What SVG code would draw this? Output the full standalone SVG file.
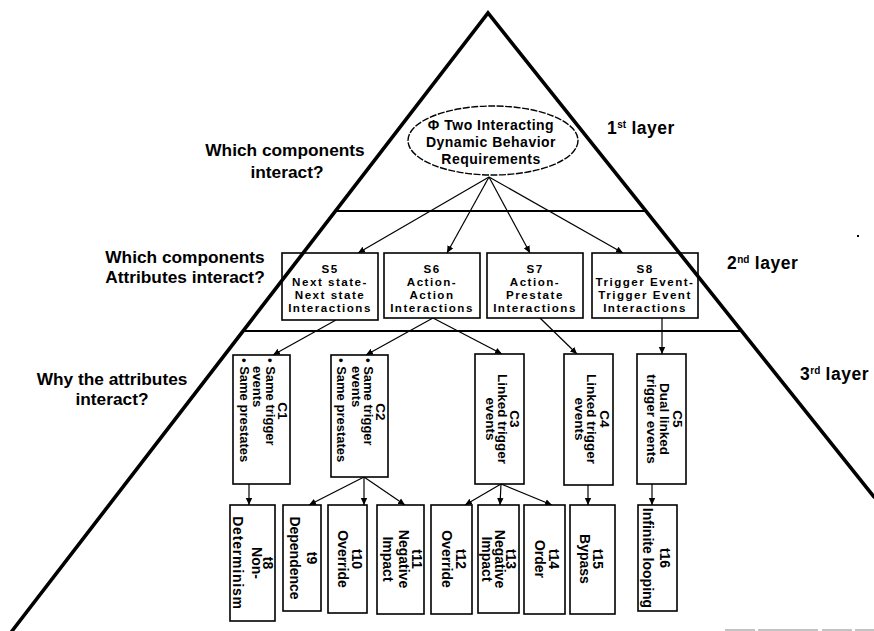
<svg xmlns="http://www.w3.org/2000/svg" width="874" height="631" viewBox="0 0 874 631">
  <style>
    text { font-family: "Liberation Sans", Arial, sans-serif; fill: #000; }
    .q { font-size: 17.3px; font-weight: bold; text-anchor: middle; }
    .lay { font-size: 17.5px; font-weight: bold; letter-spacing: 0.5px; }
    .sup { font-size: 10px; letter-spacing: 0; }
    .ell { font-size: 14px; font-weight: bold; text-anchor: middle; letter-spacing: 0.5px; }
    .s { font-size: 11.6px; font-weight: bold; text-anchor: middle; letter-spacing: 1.5px; }
    .c { font-size: 13px; font-weight: bold; }
    .cm { font-size: 13.5px; font-weight: bold; text-anchor: middle; }
    .t { font-size: 14px; font-weight: bold; text-anchor: middle; }
    .box { fill: #fff; stroke: #000; stroke-width: 1.6; }
    .conn { fill: none; stroke: #000; stroke-width: 1.2; marker-end: url(#arr); }
    .edge { stroke: #000; stroke-width: 3.6; stroke-linecap: round; fill: none; }
    .layer { stroke: #000; stroke-width: 2; }
  </style>
  <defs>
    <marker id="arr" markerUnits="userSpaceOnUse" markerWidth="8" markerHeight="8" refX="7" refY="4" orient="auto">
      <path d="M0,0.8 L7,4 L0,7.2 Z" fill="#000"/>
    </marker>
  </defs>

  <rect width="874" height="631" fill="#fff"/>

  <!-- layer separators -->
  <line class="layer" x1="336" y1="211" x2="646" y2="211"/>
  <line class="layer" x1="244" y1="331" x2="742" y2="331"/>

  <!-- question labels on the left -->
  <text class="q" x="285" y="156">Which components</text>
  <text class="q" x="287" y="178">interact?</text>
  <text class="q" x="185" y="263">Which components</text>
  <text class="q" x="185" y="283">Attributes interact?</text>
  <text class="q" x="112" y="385">Why the attributes</text>
  <text class="q" x="112" y="405">interact?</text>

  <!-- layer names on the right -->
  <text class="lay" x="607" y="134">1<tspan class="sup" dy="-6">st</tspan><tspan dy="6"> layer</tspan></text>
  <text class="lay" x="727" y="269">2<tspan class="sup" dy="-6">nd</tspan><tspan dy="6"> layer</tspan></text>
  <text class="lay" x="800" y="380">3<tspan class="sup" dy="-6">rd</tspan><tspan dy="6"> layer</tspan></text>

  <!-- connectors -->
  <g id="connectors">
    <line class="conn" x1="489" y1="177" x2="358" y2="253"/>
    <line class="conn" x1="489" y1="177" x2="447" y2="253"/>
    <line class="conn" x1="489" y1="177" x2="530" y2="253"/>
    <line class="conn" x1="489" y1="177" x2="623" y2="253"/>
    <line class="conn" x1="336" y1="320" x2="273" y2="355"/>
    <line class="conn" x1="433" y1="318" x2="366" y2="355"/>
    <line class="conn" x1="433" y1="318" x2="502" y2="354"/>
    <line class="conn" x1="540" y1="318" x2="577" y2="354"/>
    <line class="conn" x1="662" y1="318" x2="662" y2="354"/>
    <line class="conn" x1="249" y1="484" x2="249" y2="505"/>
    <line class="conn" x1="364" y1="477" x2="309" y2="505"/>
    <line class="conn" x1="364" y1="477" x2="364" y2="505"/>
    <line class="conn" x1="364" y1="477" x2="405" y2="505"/>
    <line class="conn" x1="501" y1="484" x2="465" y2="505"/>
    <line class="conn" x1="501" y1="484" x2="500" y2="505"/>
    <line class="conn" x1="501" y1="484" x2="552" y2="505"/>
    <line class="conn" x1="588" y1="485" x2="588" y2="505"/>
    <line class="conn" x1="652" y1="484" x2="652" y2="505"/>
  </g>

  <!-- 1st layer -->
  <g id="root">
    <ellipse cx="493" cy="140.5" rx="85" ry="34.5" fill="#fff" stroke="#000" stroke-width="1.4" stroke-dasharray="7 1.5"/>
    <text class="ell" x="491" y="130">Φ Two Interacting</text>
    <text class="ell" x="491" y="147">Dynamic Behavior</text>
    <text class="ell" x="491" y="164">Requirements</text>
  </g>

  <!-- 2nd layer -->
  <g id="S5">
    <rect class="box" x="282" y="253" width="96" height="67"/>
    <text class="s" x="330" y="272.5">S5</text>
    <text class="s" x="330" y="285.5">Next state-</text>
    <text class="s" x="330" y="298.5">Next state</text>
    <text class="s" x="330" y="311.5">Interactions</text>
  </g>
  <g id="S6">
    <rect class="box" x="384" y="253" width="96" height="65"/>
    <text class="s" x="432" y="272.5">S6</text>
    <text class="s" x="432" y="285.5">Action-</text>
    <text class="s" x="432" y="298.5">Action</text>
    <text class="s" x="432" y="311.5">Interactions</text>
  </g>
  <g id="S7">
    <rect class="box" x="487" y="253" width="96" height="65"/>
    <text class="s" x="535" y="272.5">S7</text>
    <text class="s" x="535" y="285.5">Action-</text>
    <text class="s" x="535" y="298.5">Prestate</text>
    <text class="s" x="535" y="311.5">Interactions</text>
  </g>
  <g id="S8">
    <rect class="box" x="592" y="253" width="106" height="65"/>
    <text class="s" x="645" y="272.5">S8</text>
    <text class="s" x="645" y="285.5" letter-spacing="0.9">Trigger Event-</text>
    <text class="s" x="645" y="298.5" letter-spacing="0.9">Trigger Event</text>
    <text class="s" x="645" y="311.5">Interactions</text>
  </g>

  <!-- 3rd layer: causes (text runs top to bottom) -->
  <g id="C1">
    <rect class="box" x="233" y="355" width="57" height="129"/>
    <g transform="translate(290,355) rotate(90)">
      <text class="cm" x="56" y="12">C1</text>
      <text class="c" x="3" y="24.5">• Same trigger</text>
      <text class="c" x="11" y="37">events</text>
      <text class="c" x="3" y="50">• Same prestates</text>
    </g>
  </g>
  <g id="C2">
    <rect class="box" x="331" y="355" width="57" height="122"/>
    <g transform="translate(388,355) rotate(90)">
      <text class="cm" x="57" y="12">C2</text>
      <text class="c" x="3" y="24.5">• Same trigger</text>
      <text class="c" x="11" y="36">events</text>
      <text class="c" x="3" y="51">• Same prestates</text>
    </g>
  </g>
  <g id="C3">
    <rect class="box" x="475" y="354" width="49" height="130"/>
    <g transform="translate(524,354) rotate(90)">
      <text class="cm" x="65" y="14">C3</text>
      <text class="cm" x="65" y="26">Linked trigger</text>
      <text class="cm" x="65" y="38">events</text>
    </g>
  </g>
  <g id="C4">
    <rect class="box" x="564" y="354" width="49" height="131"/>
    <g transform="translate(613,354) rotate(90)">
      <text class="cm" x="65" y="13">C4</text>
      <text class="cm" x="65" y="26">Linked trigger</text>
      <text class="cm" x="65" y="38">events</text>
    </g>
  </g>
  <g id="C5">
    <rect class="box" x="637" y="354" width="49" height="130"/>
    <g transform="translate(686,354) rotate(90)">
      <text class="cm" x="65" y="13">C5</text>
      <text class="cm" x="65" y="26">Dual linked</text>
      <text class="cm" x="65" y="39">trigger events</text>
    </g>
  </g>

  <!-- interaction types (text runs top to bottom) -->
  <g id="t8">
    <rect class="box" x="230" y="505" width="45" height="116"/>
    <g transform="translate(275,505) rotate(90)">
      <text class="t" x="58" y="12">t8</text>
      <text class="t" x="58" y="23">Non-</text>
      <text class="t" x="58" y="42" letter-spacing="0.8">Determinism</text>
    </g>
  </g>
  <g id="t9">
    <rect class="box" x="283" y="505" width="38" height="106"/>
    <g transform="translate(321,505) rotate(90)">
      <text class="t" x="53" y="14">t9</text>
      <text class="t" x="53" y="31">Dependence</text>
    </g>
  </g>
  <g id="t10">
    <rect class="box" x="328" y="505" width="39" height="108"/>
    <g transform="translate(367,505) rotate(90)">
      <text class="t" x="54" y="15">t10</text>
      <text class="t" x="54" y="29">Override</text>
    </g>
  </g>
  <g id="t11">
    <rect class="box" x="377" y="505" width="47" height="109"/>
    <g transform="translate(424,505) rotate(90)">
      <text class="t" x="54" y="12.5">t11</text>
      <text class="t" x="54" y="25">Negative</text>
      <text class="t" x="54" y="41">Impact</text>
    </g>
  </g>
  <g id="t12">
    <rect class="box" x="431" y="505" width="41" height="109"/>
    <g transform="translate(472,505) rotate(90)">
      <text class="t" x="54" y="16">t12</text>
      <text class="t" x="54" y="30">Override</text>
    </g>
  </g>
  <g id="t13">
    <rect class="box" x="478" y="505" width="41" height="108"/>
    <g transform="translate(519,505) rotate(90)">
      <text class="t" x="54" y="13">t13</text>
      <text class="t" x="54" y="24.5">Negative</text>
      <text class="t" x="54" y="37">Impact</text>
    </g>
  </g>
  <g id="t14">
    <rect class="box" x="524" y="505" width="41" height="109"/>
    <g transform="translate(565,505) rotate(90)">
      <text class="t" x="54" y="16">t14</text>
      <text class="t" x="54" y="30">Order</text>
    </g>
  </g>
  <g id="t15">
    <rect class="box" x="570" y="505" width="45" height="109"/>
    <g transform="translate(615,505) rotate(90)">
      <text class="t" x="54" y="22">t15</text>
      <text class="t" x="54" y="35">Bypass</text>
    </g>
  </g>
  <g id="t16">
    <rect class="box" x="638" y="505" width="39" height="106"/>
    <g transform="translate(677,505) rotate(90)">
      <text class="t" x="53" y="17">t16</text>
      <text class="t" x="53" y="34">Infinite looping</text>
    </g>
  </g>

  <!-- pyramid outline -->
  <polyline class="edge" points="12,631 488,13 874,497"/>

  <!-- stray marks -->
  <rect x="857" y="235" width="2" height="2" fill="#000"/>
  <line x1="725" y1="630" x2="874" y2="630" stroke="#888" stroke-width="1.2" stroke-dasharray="30 3 60 4"/>
</svg>
